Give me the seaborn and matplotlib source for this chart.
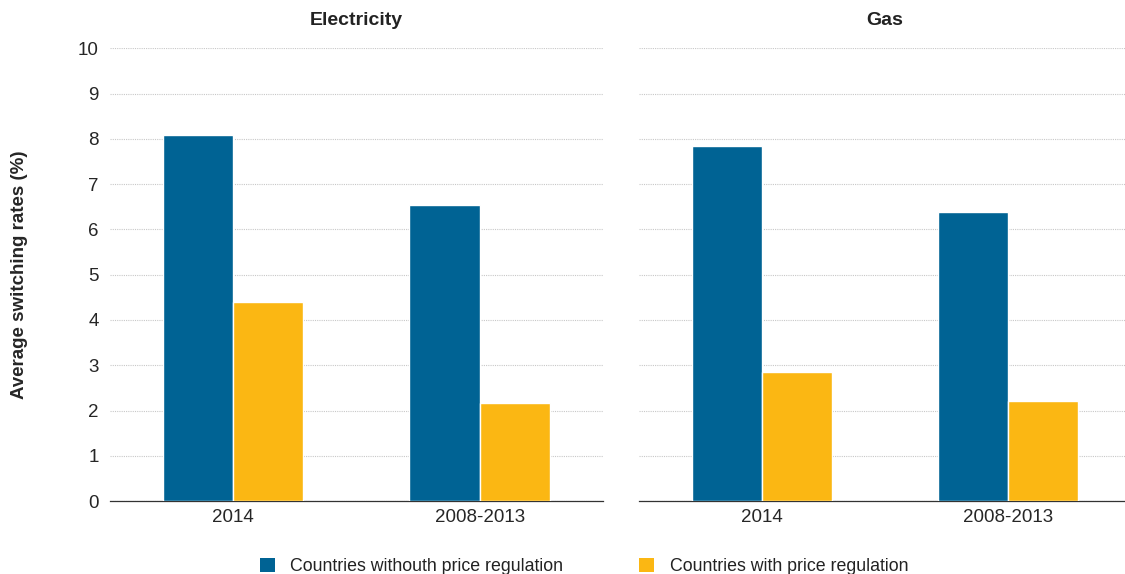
import pandas as pd
import matplotlib
matplotlib.use("Agg")
import matplotlib.pyplot as plt
import seaborn as sns
from matplotlib.patches import Patch

# Data
periods = ["2014", "2008-2013"]
groups = ["Countries withouth price regulation", "Countries with price regulation"]
electricity_no_reg = [8.08, 6.53]
electricity_reg = [4.40, 2.17]
gas_no_reg = [7.84, 6.38]
gas_reg = [2.85, 2.21]

colors = ["#006394", "#fbb713"]

def make_df(no_reg, reg):
    rows = []
    for p, v in zip(periods, no_reg):
        rows.append({"Period": p, "Group": groups[0], "Rate": v})
    for p, v in zip(periods, reg):
        rows.append({"Period": p, "Group": groups[1], "Rate": v})
    return pd.DataFrame(rows)

sns.set_style("white")
plt.rcParams['font.family'] = ['Liberation Sans', 'DejaVu Sans']
plt.rcParams['text.color'] = '#222222'

fig = plt.figure(figsize=(11.25, 5.74), dpi=100)
ax1 = fig.add_axes([0.0978, 0.127, 0.438, 0.789])
ax2 = fig.add_axes([0.568, 0.127, 0.4373, 0.789])

panels = [(ax1, "Electricity", electricity_no_reg, electricity_reg),
          (ax2, "Gas", gas_no_reg, gas_reg)]

for ax, title, no_reg, reg in panels:
    df = make_df(no_reg, reg)
    sns.barplot(data=df, x="Period", y="Rate", hue="Group", palette=colors,
                width=0.57, saturation=1, ax=ax, legend=False, zorder=3)
    ax.set_ylim(0, 10)
    ax.set_yticks(range(0, 11))
    ax.yaxis.grid(True, linestyle=(0, (1, 1)), color="#c8c8c8", linewidth=0.8, zorder=0)
    ax.set_axisbelow(True)
    for s in ["top", "right", "left"]:
        ax.spines[s].set_visible(False)
    ax.spines["bottom"].set_color("#333333")
    ax.spines["bottom"].set_linewidth(0.9)
    ax.set_xlabel("")
    ax.set_ylabel("")
    ax.set_title(title, fontsize=14, fontweight="bold", pad=17)
    ax.tick_params(axis="x", labelsize=13.5, length=0, pad=6)
    ax.tick_params(axis="y", labelsize=13.5, length=0, pad=8)

ax2.set_yticklabels([])
ax1.set_ylabel("Average switching rates (%)", fontsize=13.5, fontweight="bold", labelpad=36)

handles = [Patch(facecolor=c, edgecolor="none") for c in colors]
fig.legend(handles, groups, loc="lower center", bbox_to_anchor=(0.519, -0.03), ncol=2,
           frameon=False, fontsize=12.8, handlelength=0.85, handleheight=0.85,
           handletextpad=0.85, columnspacing=4.3)

fig.savefig("out.png", dpi=100)
